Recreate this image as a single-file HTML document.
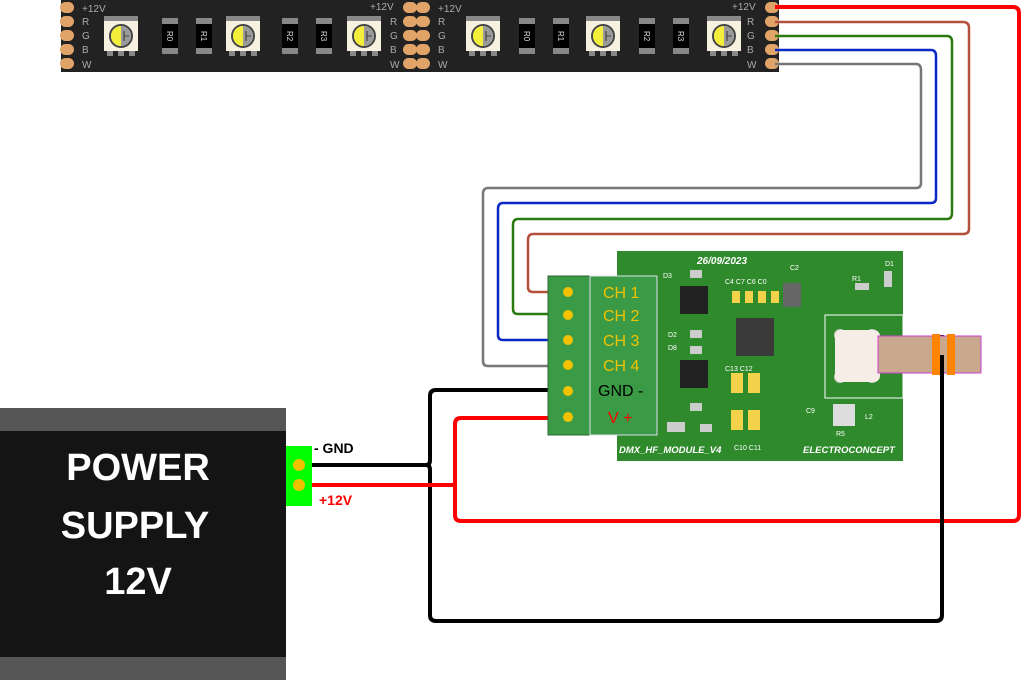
<!DOCTYPE html>
<html><head><meta charset="utf-8"><style>
html,body{margin:0;padding:0;background:#fff;width:1024px;height:680px;overflow:hidden}
svg{display:block}
text{font-family:"Liberation Sans",sans-serif}
</style></head><body>
<svg width="1024" height="680" viewBox="0 0 1024 680" xmlns="http://www.w3.org/2000/svg">
<defs>
<g id="led">
 <rect x="-17" y="-20" width="34" height="5" fill="#888"/>
 <rect x="-14" y="-20" width="6" height="6" fill="#888"/><rect x="-3" y="-20" width="6" height="6" fill="#888"/><rect x="8" y="-20" width="6" height="6" fill="#888"/>
 <rect x="-14" y="14" width="6" height="6" fill="#888"/><rect x="-3" y="14" width="6" height="6" fill="#888"/><rect x="8" y="14" width="6" height="6" fill="#888"/>
 <rect x="-17" y="-15" width="34" height="30" fill="#f6f2df"/>
 <circle r="11" fill="#fff" stroke="#444" stroke-width="2"/>
 <path d="M0,-10 A10,10 0 0 0 0,10 Z" fill="#f2ee3a"/>
 <path d="M0,-10 A10,10 0 0 1 0,10 Z" fill="#9a9a9a"/>
 <line x1="3" y1="-5" x2="3" y2="5" stroke="#444" stroke-width="1.2"/><line x1="3" y1="0" x2="8" y2="0" stroke="#444"/>
</g>
<g id="res">
 <rect x="-8" y="-18" width="16" height="6" fill="#888"/><rect x="-8" y="12" width="16" height="6" fill="#888"/>
 <rect x="-8" y="-12" width="16" height="24" fill="#000"/>
</g>
<g id="pads">
 <rect x="0" y="2" width="14" height="11" rx="5.5" fill="#e0a468"/>
 <rect x="0" y="16" width="14" height="11" rx="5.5" fill="#e0a468"/>
 <rect x="0" y="30" width="14" height="11" rx="5.5" fill="#e0a468"/>
 <rect x="0" y="44" width="14" height="11" rx="5.5" fill="#e0a468"/>
 <rect x="0" y="58" width="14" height="11" rx="5.5" fill="#e0a468"/>
</g>
</defs>

<!-- LED strip -->
<rect x="61" y="0" width="718" height="72" fill="#222"/>
<use href="#pads" x="60" y="0"/>
<use href="#pads" x="403" y="0"/><use href="#pads" x="416" y="0"/>
<use href="#pads" x="765" y="0"/>
<g fill="#aaa" font-size="10">
<text x="82" y="12">+12V</text><text x="82" y="25">R</text><text x="82" y="39">G</text><text x="82" y="53">B</text><text x="82" y="68">W</text>
<text x="370" y="10">+12V</text><text x="390" y="25">R</text><text x="390" y="39">G</text><text x="390" y="53">B</text><text x="390" y="68">W</text>
<text x="438" y="12">+12V</text><text x="438" y="25">R</text><text x="438" y="39">G</text><text x="438" y="53">B</text><text x="438" y="68">W</text>
<text x="732" y="10">+12V</text><text x="747" y="25">R</text><text x="747" y="39">G</text><text x="747" y="53">B</text><text x="747" y="68">W</text>
</g>
<use href="#led" x="121" y="36"/><use href="#led" x="243" y="36"/><use href="#led" x="364" y="36"/>
<use href="#led" x="483" y="36"/><use href="#led" x="603" y="36"/><use href="#led" x="724" y="36"/>
<use href="#res" x="170" y="36"/><use href="#res" x="204" y="36"/><use href="#res" x="290" y="36"/><use href="#res" x="324" y="36"/>
<use href="#res" x="527" y="36"/><use href="#res" x="561" y="36"/><use href="#res" x="647" y="36"/><use href="#res" x="681" y="36"/>
<g fill="#ddd" font-size="8">
<text transform="translate(167,31) rotate(90)">R0</text><text transform="translate(201,31) rotate(90)">R1</text>
<text transform="translate(287,31) rotate(90)">R2</text><text transform="translate(321,31) rotate(90)">R3</text>
<text transform="translate(524,31) rotate(90)">R0</text><text transform="translate(558,31) rotate(90)">R1</text>
<text transform="translate(644,31) rotate(90)">R2</text><text transform="translate(678,31) rotate(90)">R3</text>
</g>

<!-- wires from strip -->
<g fill="none" stroke-linejoin="round">
<path d="M775,7 H1013 Q1019,7 1019,13 V515 Q1019,521 1013,521 H461 Q455,521 455,515 V424 Q455,418 461,418 H570" stroke="#f00" stroke-width="4"/>
<path d="M775,22 H963 Q969,22 969,28 V229 Q969,234 963,234 H533 Q528,234 528,240 V287 Q528,292 533,292 H567" stroke="#b5503c" stroke-width="2.5"/>
<path d="M775,36 H947 Q952,36 952,42 V213 Q952,219 947,219 H518 Q513,219 513,225 V309 Q513,314 518,314 H567" stroke="#2a7a10" stroke-width="2.5"/>
<path d="M775,50 H931 Q936,50 936,56 V198 Q936,203 931,203 H503 Q498,203 498,209 V335 Q498,340 503,340 H567" stroke="#0a28c8" stroke-width="2.5"/>
<path d="M775,64 H916 Q921,64 921,70 V183 Q921,188 916,188 H488 Q483,188 483,194 V361 Q483,366 488,366 H567" stroke="#777" stroke-width="2.5"/>
<path d="M312,465 H426 Q430,465 430,460 V396 Q430,390 436,390 H570" stroke="#000" stroke-width="4"/>
<path d="M426,465 Q430,465 430,470 V615 Q430,621 436,621 H936 Q942,621 942,615 V335" stroke="#000" stroke-width="4"/>
<path d="M312,485 H455" stroke="#f00" stroke-width="4"/>
</g>

<!-- PCB -->
<rect x="617" y="251" width="286" height="210" fill="#2f8a2c"/>
<text x="697" y="264" font-size="10" font-style="italic" font-weight="bold" fill="#fff">26/09/2023</text>
<text x="619" y="453" font-size="9.5" font-style="italic" font-weight="bold" fill="#fff">DMX_HF_MODULE_V4</text>
<text x="803" y="453" font-size="9.5" font-style="italic" font-weight="bold" fill="#fff">ELECTROCONCEPT</text>
<rect x="680" y="286" width="28" height="28" fill="#222"/><rect x="680" y="360" width="28" height="28" fill="#222"/>
<rect x="736" y="318" width="38" height="38" fill="#3a3a3a"/>
<rect x="783" y="283" width="18" height="24" fill="#666"/>
<g fill="#f4d24a"><rect x="732" y="291" width="8" height="12"/><rect x="745" y="291" width="8" height="12"/><rect x="758" y="291" width="8" height="12"/><rect x="771" y="291" width="8" height="12"/>
<rect x="731" y="373" width="12" height="20"/><rect x="748" y="373" width="12" height="20"/><rect x="731" y="410" width="12" height="20"/><rect x="748" y="410" width="12" height="20"/></g>
<g fill="#ccc"><rect x="690" y="270" width="12" height="8"/><rect x="690" y="330" width="12" height="8"/><rect x="690" y="346" width="12" height="8"/><rect x="690" y="403" width="12" height="8"/><rect x="700" y="424" width="12" height="8"/><rect x="667" y="422" width="18" height="10"/><rect x="884" y="271" width="8" height="16"/><rect x="855" y="283" width="14" height="7"/><rect x="833" y="404" width="22" height="22" fill="#ddd"/></g>
<g fill="#fff" font-size="7"><text x="663" y="278">D3</text><text x="668" y="337">D2</text><text x="668" y="350">D8</text><text x="725" y="284">C4 C7 C6 C0</text><text x="790" y="270">C2</text><text x="852" y="281">R1</text><text x="885" y="266">D1</text><text x="725" y="371">C13 C12</text><text x="836" y="436">R5</text><text x="865" y="419">L2</text><text x="806" y="413">C9</text><text x="734" y="450">C10 C11</text></g>
<!-- terminal block -->
<rect x="548" y="276" width="42" height="159" fill="#3a9a46" stroke="#2a6a30"/>
<rect x="590" y="276" width="67" height="159" fill="#3a9a46" stroke="#dde"/>
<g fill="#f2c200"><circle cx="568" cy="292" r="5"/><circle cx="568" cy="315" r="5"/><circle cx="568" cy="340" r="5"/><circle cx="568" cy="365" r="5"/><circle cx="568" cy="391" r="5"/><circle cx="568" cy="417" r="5"/></g>
<g font-size="16" fill="#f2c200"><text x="603" y="298">CH 1</text><text x="603" y="321">CH 2</text><text x="603" y="346">CH 3</text><text x="603" y="371">CH 4</text></g>
<text x="598" y="396" font-size="16" fill="#000">GND -</text>
<text x="608" y="423" font-size="16" fill="#f00">V +</text>
<!-- coax -->
<rect x="825" y="315" width="78" height="83" fill="#2f8a2c" stroke="#fff"/>
<circle cx="840" cy="335" r="6" fill="#ccc"/><circle cx="872" cy="335" r="6" fill="#ccc"/><circle cx="840" cy="377" r="6" fill="#ccc"/><circle cx="872" cy="377" r="6" fill="#ccc"/>
<rect x="835" y="330" width="45" height="52" rx="6" fill="#f6eee6"/>
<rect x="878" y="336" width="103" height="37" fill="#c9a88e" stroke="#d040d0"/>
<rect x="932" y="334" width="8" height="41" fill="#ff8400"/><rect x="947" y="334" width="8" height="41" fill="#ff8400"/>
<line x1="942" y1="355" x2="942" y2="380" stroke="#000" stroke-width="4"/>

<!-- power supply -->
<rect x="0" y="408" width="286" height="272" fill="#555"/>
<rect x="0" y="431" width="286" height="226" fill="#141414"/>
<g fill="#fff" font-size="38" font-weight="bold" text-anchor="middle">
<text x="138" y="480">POWER</text><text x="135" y="538">SUPPLY</text><text x="138" y="594">12V</text></g>
<rect x="286" y="446" width="26" height="60" fill="#0f0"/>
<circle cx="299" cy="465" r="6" fill="#f2c200"/><circle cx="299" cy="485" r="6" fill="#f2c200"/>
<text x="314" y="453" font-size="14" font-weight="bold" fill="#000">- GND</text>
<text x="319" y="505" font-size="14" font-weight="bold" fill="#f00">+12V</text>
</svg>
</body></html>
